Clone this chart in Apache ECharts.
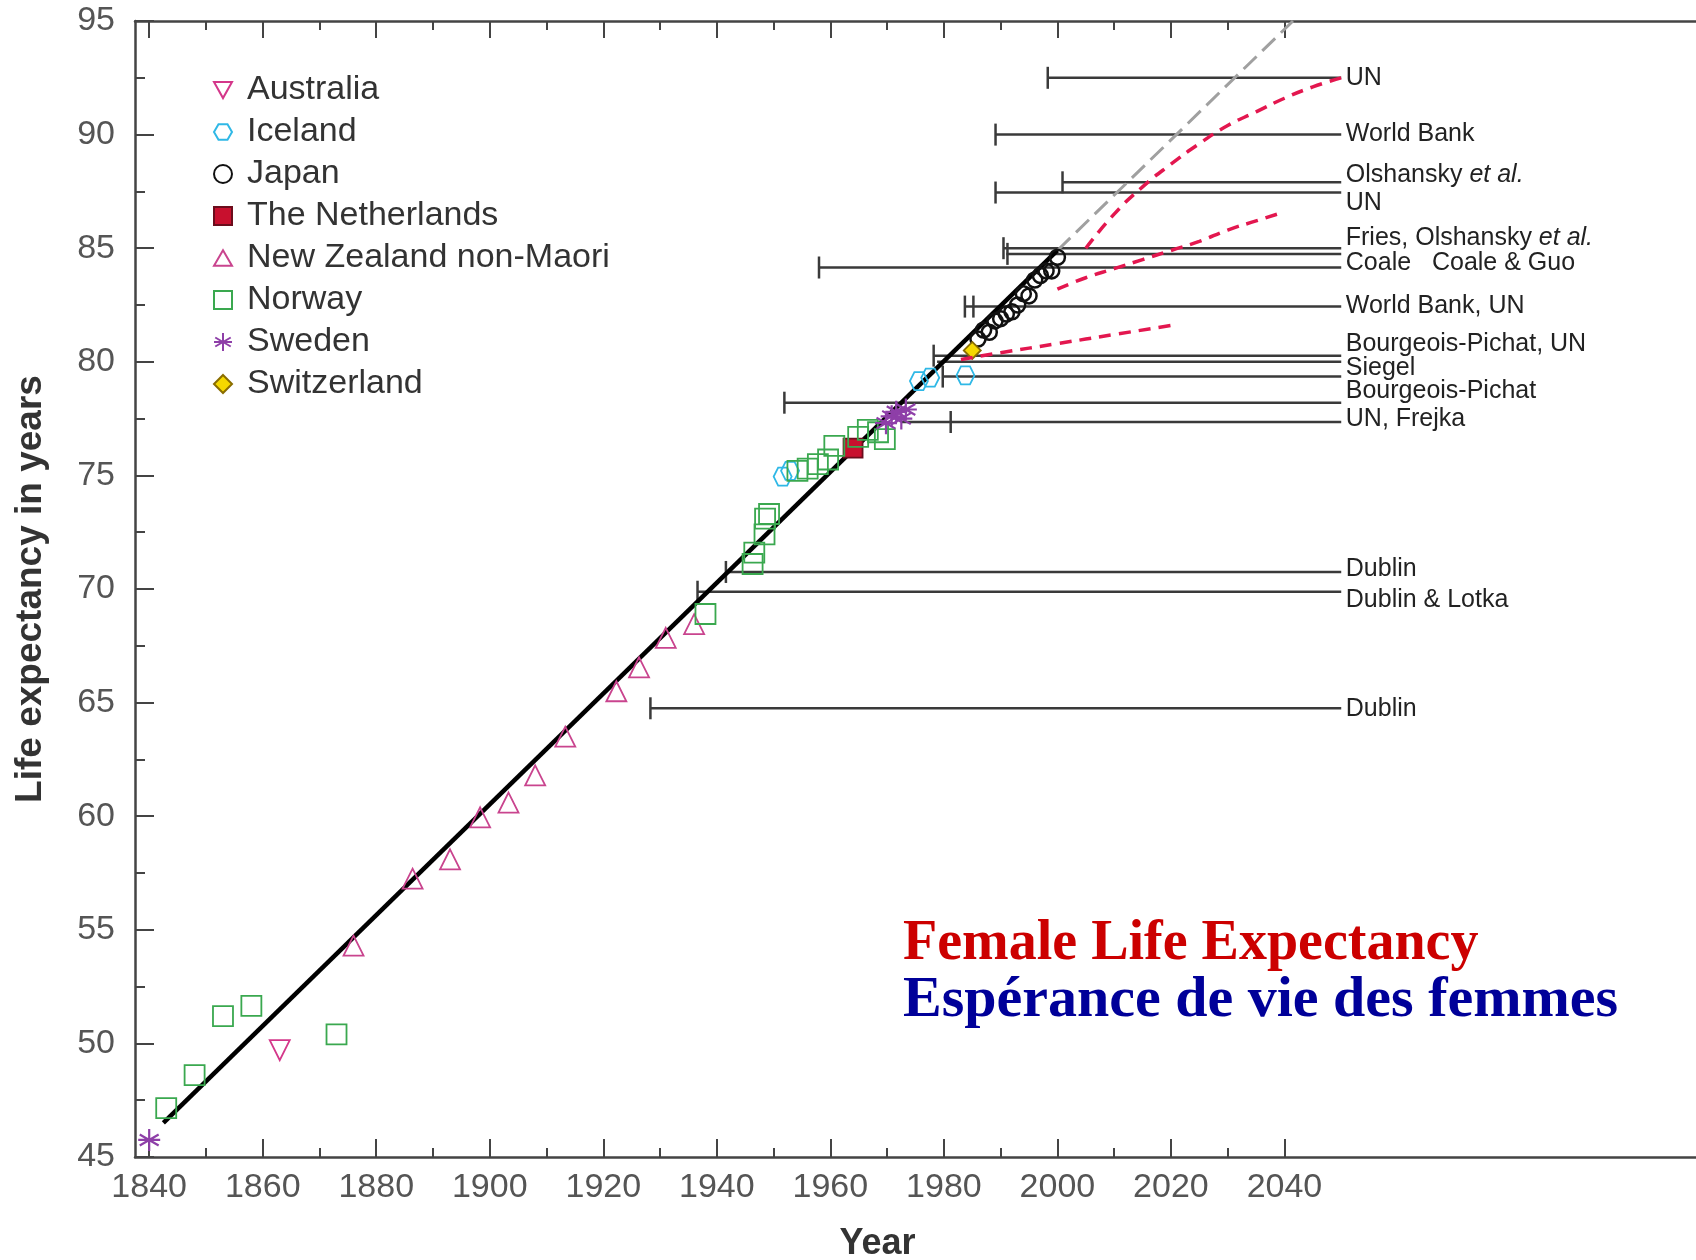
<!DOCTYPE html>
<html>
<head>
<meta charset="utf-8">
<title>Female Life Expectancy</title>
<script src="https://cdn.jsdelivr.net/npm/echarts@6.0.0/dist/echarts.min.js"></script>
<style>
  html, body { margin: 0; padding: 0; background: #fff; }
  #chart { width: 1696px; height: 1260px; }
</style>
</head>
<body>
<div id="chart"></div>
<script>
// record female life expectancy, [year, years]
const australia = [[1863, 49.7]]
const iceland = [[1951.6, 74.95], [1952.9, 75.2], [1975.6, 79.15], [1977.6, 79.3], [1983.8, 79.4]]
const japan = [[1986, 81.0], [1987, 81.4], [1988, 81.3], [1989, 81.8], [1990, 81.9], [1991, 82.1], [1992, 82.2],
  [1993, 82.5], [1994, 83.0], [1995, 82.9], [1996, 83.6], [1997, 83.8], [1998, 84.0], [1999, 84.0], [2000, 84.6]]
const netherlands = [[1964, 76.2]]
const newZealand = [[1876, 54.3], [1886.4, 57.25], [1893, 58.1], [1898.3, 59.95], [1903.3, 60.6], [1908, 61.8],
  [1913.3, 63.5], [1922.3, 65.5], [1926.3, 66.55], [1931, 67.85], [1936, 68.45]]
const norway = [[1843, 47.15], [1848, 48.6], [1853, 51.2], [1858, 51.65], [1873, 50.4], [1938, 68.9],
  [1946.3, 71.1], [1946.6, 71.6], [1948.4, 72.4], [1948.5, 73.1], [1949.2, 73.3], [1954.2, 75.2], [1956, 75.3],
  [1957.8, 75.5], [1959.6, 75.7], [1960.7, 76.3], [1964.9, 76.7], [1966.6, 77.0], [1968.4, 76.9], [1969.6, 76.6]]
const sweden = [[1840, 45.75], [1969.8, 77.3], [1970.8, 77.6], [1971.6, 77.8], [1972.5, 77.5], [1973.3, 77.9]]
const switzerland = [[1985, 80.5]]

// linear trend of the records and its extension
const trendYears = [1842.5, 2000]
const trendValues = [46.5, 84.9]
const extYears = [2000, 2041.5]
const extValues = [84.9, 95]

// national forecasts (red dashed)
const forecastHigh = [[2005, 85.0], [2010, 86.5], [2015, 87.7], [2020, 88.7], [2025, 89.6], [2030, 90.4],
  [2035, 91.0], [2040, 91.6], [2045, 92.1], [2050, 92.5]]
const forecastMid = [[2000, 83.2], [2005, 83.7], [2010, 84.1], [2015, 84.5], [2020, 84.9], [2025, 85.3],
  [2030, 85.8], [2035, 86.2], [2040, 86.6]]
const forecastLow = [[1983, 80.1], [1990, 80.4], [2000, 80.8], [2010, 81.2], [2020, 81.6]]

// asserted ceilings: published year, level, marker years
const projStart = [1998.3, 1989.1, 2000.9, 1989.1, 1990.5, 1991.0, 1958.0, 1983.7, 1978.2, 1978.8, 1979.8,
  1951.9, 1972.5, 1941.6, 1936.6, 1928.3]
const projLevel = [92.5, 90.0, 87.9, 87.45, 85.0, 84.75, 84.15, 82.43, 80.27, 80.0, 79.35, 78.2, 77.35,
  70.75, 69.88, 64.75]
const projBars = [[1998.3], [1989.1], [2000.9], [1989.1], [1990.5], [1991.2], [1958.0], [1983.7, 1985.2],
  [1978.2], [], [1979.8], [1951.9], [1981.2], [1941.6], [1936.6], [1928.3]]
const projEnd = 2050
const labelText = ['UN', 'World Bank', 'Olshansky et al.', 'UN', 'Fries, Olshansky et al.', 'Coale   Coale & Guo',
  'World Bank, UN', 'Bourgeois-Pichat, UN', 'Siegel', 'Bourgeois-Pichat', 'UN, Frejka', 'Dublin',
  'Dublin & Lotka', 'Dublin']
const labelLevel = [92.48, 90.0, 88.2, 87.0, 85.45, 84.33, 82.43, 80.76, 79.71, 78.71, 77.48, 70.86, 69.52, 64.71]

// axis ticks
const majorYears = [1840, 1860, 1880, 1900, 1920, 1940, 1960, 1980, 2000, 2020, 2040]
const minorYears = [1850, 1870, 1890, 1910, 1930, 1950, 1970, 1990, 2010, 2030]

const sans = 'Liberation Sans, Arial, Helvetica, sans-serif'
const serif = 'Liberation Serif, Times New Roman, serif'
const axisColor = '#444'
const xMin = 1837.5
const xMax = 2112.5

const chart = echarts.init(document.getElementById('chart'))

function xAxisOf(position, values, length, showLine, showLabel) {
  return {
    type: 'value',
    position: position,
    min: xMin,
    max: xMax,
    splitLine: { show: false },
    axisLine: { show: showLine, lineStyle: { color: axisColor, width: 2.5 } },
    axisTick: { show: true, inside: true, length: length, customValues: values, lineStyle: { color: axisColor, width: 2 } },
    axisLabel: {
      show: showLabel,
      customValues: values,
      margin: 14,
      fontSize: 34,
      color: '#555',
      fontFamily: sans,
      formatter(v) {
        return String(v)
      }
    }
  }
}

function scatter(name, data, symbol, size, color, fill, border, width) {
  return {
    name: name,
    type: 'scatter',
    data: data,
    symbol: symbol,
    symbolSize: size,
    z: 4,
    itemStyle: {
      color: fill,
      borderColor: border || color,
      borderWidth: width || 1.8,
      opacity: 1
    }
  }
}

function renderProjection(params, api) {
  const i = params.dataIndex
  const a = api.coord([projStart[i], projLevel[i]])
  const b = api.coord([projEnd, projLevel[i]])
  const style = { stroke: '#3a3a3a', lineWidth: 2.5 }
  const children = [{ type: 'line', shape: { x1: a[0], y1: a[1], x2: b[0], y2: b[1] }, style: style }]
  projBars[i].forEach(function (yr) {
    const c = api.coord([yr, projLevel[i]])
    children.push({ type: 'line', shape: { x1: c[0], y1: c[1] - 11, x2: c[0], y2: c[1] + 11 }, style: style })
  })
  return { type: 'group', children: children }
}

function renderLabel(params, api) {
  const i = params.dataIndex
  const p = api.coord([projEnd + 0.8, labelLevel[i]])
  return {
    type: 'text',
    x: p[0],
    y: p[1],
    style: {
      text: labelText[i].replace('et al.', '{i|et al.}'),
      fontSize: 25,
      fontFamily: sans,
      fill: '#222',
      align: 'left',
      verticalAlign: 'middle',
      rich: {
        i: { fontSize: 25, fontFamily: sans, fontStyle: 'italic', fill: '#222' }
      }
    }
  }
}

const dashedRed = { color: '#e3174f', width: 3.5, type: [12, 8] }

chart.setOption({
  animation: false,
  backgroundColor: '#fff',
  grid: { left: 135, right: 0, top: 21, bottom: 103, containLabel: false, outerBoundsMode: 'none' },
  legend: {
    data: ['Australia', 'Iceland', 'Japan', 'The Netherlands', 'New Zealand non-Maori', 'Norway', 'Sweden', 'Switzerland'],
    orient: 'vertical',
    left: 213,
    top: 73,
    padding: 0,
    itemWidth: 18,
    itemHeight: 18,
    itemGap: 8,
    itemStyle: { borderWidth: 2 },
    textStyle: { fontSize: 34, lineHeight: 34, color: '#333', fontFamily: sans, padding: [0, 0, 0, 10] }
  },
  xAxis: [
    Object.assign(xAxisOf('bottom', majorYears, 18, true, true), {
      name: 'Year',
      nameLocation: 'middle',
      nameGap: 69,
      nameTextStyle: { fontSize: 36, fontWeight: 'bold', color: '#333', fontFamily: sans, padding: [0, 76, 0, 0] }
    }),
    xAxisOf('bottom', minorYears, 9, false, false),
    xAxisOf('top', majorYears, 17, true, false),
    xAxisOf('top', minorYears, 9, false, false)
  ],
  yAxis: {
    type: 'value',
    min: 45,
    max: 95,
    interval: 5,
    name: 'Life expectancy in years',
    nameLocation: 'middle',
    nameRotate: 90,
    nameGap: 86,
    nameTextStyle: { fontSize: 37, fontWeight: 'bold', color: '#333', fontFamily: sans },
    splitLine: { show: false },
    axisLine: { show: true, lineStyle: { color: axisColor, width: 2.5 } },
    axisTick: { inside: true, length: 19, lineStyle: { color: axisColor, width: 2 } },
    minorTick: { show: true, splitNumber: 2, length: 10, lineStyle: { color: axisColor, width: 2 } },
    axisLabel: { margin: 20, fontSize: 34, color: '#555', fontFamily: sans }
  },
  graphic: [
    {
      type: 'text',
      left: 903,
      top: 917,
      style: { text: 'Female Life Expectancy', font: 'bold 56px ' + serif, fill: '#cc0000' }
    },
    {
      type: 'text',
      left: 903,
      top: 972,
      style: { text: 'Espérance de vie des femmes', font: 'bold 58px ' + serif, fill: '#000099' }
    }
  ],
  series: [
    {
      name: 'ceilings',
      type: 'custom',
      renderItem: renderProjection,
      data: projStart.map((s, i) => [s, projLevel[i]]),
      encode: { x: 0, y: 1 },
      z: 1,
      silent: true
    },
    {
      name: 'ceiling labels',
      type: 'custom',
      renderItem: renderLabel,
      data: labelLevel.map(v => [projEnd, v]),
      encode: { x: 0, y: 1 },
      clip: false,
      z: 6,
      silent: true
    },
    {
      name: 'trend',
      type: 'line',
      data: trendYears.map((y, i) => [y, trendValues[i]]),
      symbol: 'none',
      z: 3,
      lineStyle: { color: '#000', width: 4.5 }
    },
    {
      name: 'trend extension',
      type: 'line',
      data: extYears.map((y, i) => [y, extValues[i]]),
      symbol: 'none',
      z: 3,
      lineStyle: { color: '#a0a0a0', width: 3, type: [18, 8] }
    },
    scatter('Australia', australia, 'path://M0,0 L10,0 L5,9 Z', 20, '#d4378a', 'transparent'),
    scatter('Iceland', iceland, 'path://M2.5,0 L7.5,0 L10,4.33 L7.5,8.66 L2.5,8.66 L0,4.33 Z', 18, '#2fb8e6', 'transparent'),
    scatter('Japan', japan, 'circle', 15, '#111', 'transparent', '#111', 2.5),
    scatter('The Netherlands', netherlands, 'rect', 19, '#6b0d1c', '#c8102e', '#6b0d1c'),
    scatter('New Zealand non-Maori', newZealand, 'path://M5,0 L10,8.7 L0,8.7 Z', 20, '#c9448e', 'transparent'),
    scatter('Norway', norway, 'rect', 20, '#3aa84f', 'transparent'),
    scatter('Sweden', sweden, 'path://M5,0 L5,10 M0.7,2.5 L9.3,7.5 M0.7,7.5 L9.3,2.5 M0,5 L10,5', 22, '#8e3fa8', 'transparent', '#8e3fa8', 2.2),
    scatter('Switzerland', switzerland, 'diamond', 17, '#8a6d00', '#f5d800', '#8a6d00'),
    {
      name: 'forecast high',
      type: 'line',
      data: forecastHigh,
      smooth: true,
      symbol: 'none',
      z: 5,
      lineStyle: dashedRed
    },
    {
      name: 'forecast mid',
      type: 'line',
      data: forecastMid,
      smooth: true,
      symbol: 'none',
      z: 5,
      lineStyle: dashedRed
    },
    {
      name: 'forecast low',
      type: 'line',
      data: forecastLow,
      smooth: true,
      symbol: 'none',
      z: 5,
      lineStyle: dashedRed
    }
  ]
})
</script>
</body>
</html>
